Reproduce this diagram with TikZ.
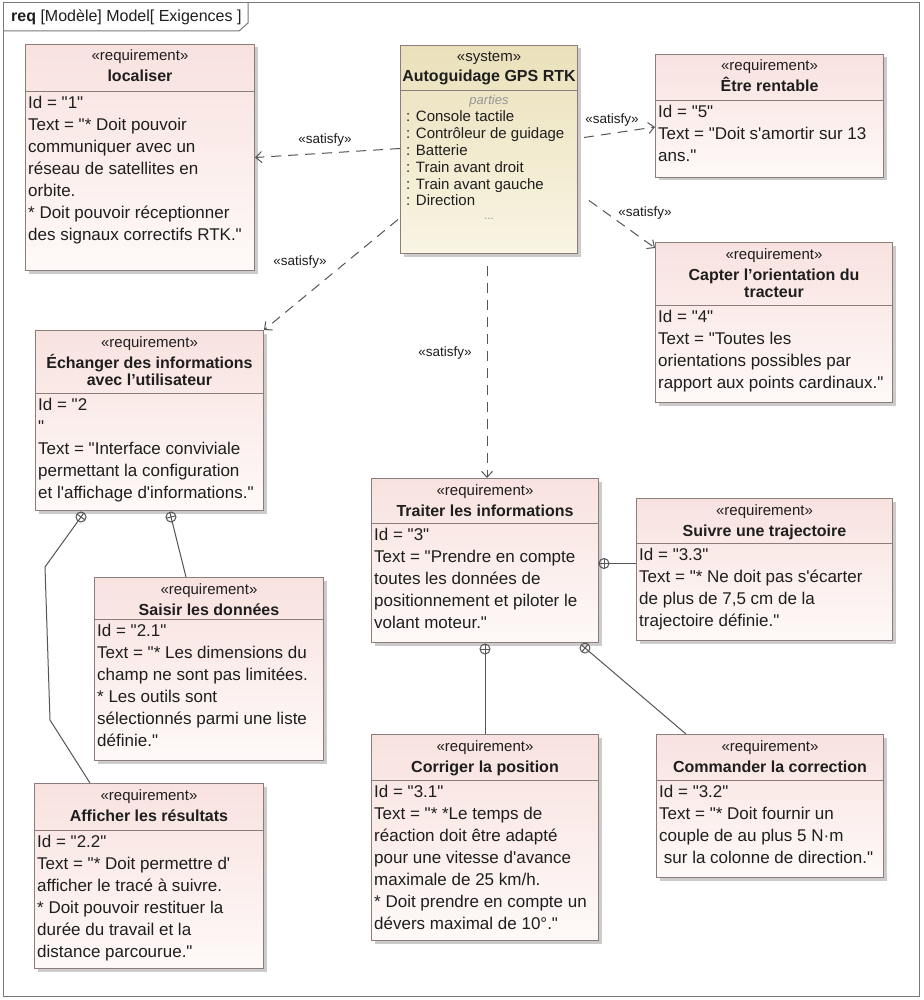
\documentclass[tikz,border=0pt]{standalone}
\usepackage{fontspec}
\setmainfont{Liberation Sans}[Ligatures=TeXOff]
\usetikzlibrary{calc,arrows.meta,shadows}
\definecolor{txt}{RGB}{30,30,30}
\definecolor{boxline}{RGB}{140,125,122}
\definecolor{reqTop}{RGB}{248,226,223}
\definecolor{reqBot}{RGB}{254,249,248}
\definecolor{sysTop}{RGB}{234,224,186}
\definecolor{sysBot}{RGB}{249,245,228}
\definecolor{conn}{RGB}{85,85,85}
\definecolor{framecol}{RGB}{120,120,120}
\definecolor{partgrey}{RGB}{150,150,150}

\tikzset{
  reqshape/.style={draw=boxline, line width=1pt, top color=reqTop, bottom color=reqBot,
    drop shadow={shadow xshift=3pt, shadow yshift=-3pt, fill=black!40, opacity=0.5}, inner sep=0pt},
  sysshape/.style={draw=boxline, line width=1pt, top color=sysTop, bottom color=sysBot,
    drop shadow={shadow xshift=3pt, shadow yshift=-3pt, fill=black!40, opacity=0.5}, inner sep=0pt},
  sepline/.style={draw=boxline, line width=1pt},
  reqstereo/.style={text=txt, inner sep=0pt, font=\fontsize{15}{17}\selectfont},
  reqtitle/.style={text=txt, inner sep=0pt, font=\bfseries\fontsize{16}{17.5}\selectfont},
  reqbody/.style={text=txt, inner sep=0pt, font=\fontsize{17}{22}\selectfont},
  sysparts/.style={text=txt, inner sep=0pt, font=\fontsize{15}{16.8}\selectfont},
  satisfy/.style={draw=conn, line width=1pt, dash pattern=on 10pt off 7pt,
    -{Straight Barb[length=6pt,width=11pt,line width=1pt]}},
  satlabel/.style={text=txt, inner sep=0pt, font=\fontsize{13.5}{15}\selectfont},
  cline/.style={draw=conn, line width=1pt},
}

\newcommand{\reqbox}[8]{%
  \node[reqshape, minimum width=#4, minimum height=#5, anchor=north west] (#1) at (#2,#3) {};
  \draw[sepline] ($(#1.north west)+(0,#6)$) -- ($(#1.north east)+(0,#6)$);
  \node[reqstereo, anchor=base] (#1-st) at ($(#1.north)+(0,17)$) {«requirement»};
  \node[reqtitle, anchor=base] (#1-ti) at ($(#1.north)+(0,38)$) {\begin{tabular}[t]{@{}c@{}}#7\end{tabular}};
  \node[reqbody, anchor=base west] (#1-bd) at ($(#1.north west)+(3,#6+17)$) {\begin{tabular}[t]{@{}l@{}}#8\end{tabular}};
}

% circle-plus containment symbol at #1, oriented towards #2
\newcommand{\ctmark}[2]{%
  \draw[cline] (#1) circle (5);
  \draw[cline] ($(#1)!5pt!(#2)$) -- ($(#1)!-5pt!(#2)$);
  \draw[cline] ($(#1)!5pt!90:(#2)$) -- ($(#1)!5pt!-90:(#2)$);
}

\begin{document}
\begin{tikzpicture}[x=1pt,y=-1pt]
\useasboundingbox (0,0) rectangle (923,1000);
\fill[white] (0,0) rectangle (923,1000);

% frame
\draw[draw=framecol, line width=1pt] (3,3) rectangle (919,996);
\draw[draw=framecol, line width=1pt] (3,31) -- (239,31) -- (248,23) -- (248,3);
\node[anchor=base west, inner sep=0pt, text=txt, font=\fontsize{16}{18}\selectfont] (hdr) at (11,22)
  {\textbf{req} [Modèle] Model[ Exigences ]};

% system block
\node[sysshape, minimum width=177, minimum height=208, anchor=north west] (sys) at (400,45) {};
\draw[sepline] ($(sys.north west)+(0,46)$) -- ($(sys.north east)+(0,46)$);
\node[reqstereo, anchor=base] (sys-st) at ($(sys.north)+(0,17)$) {«system»};
\node[reqtitle, anchor=base] (sys-ti) at ($(sys.north)+(0,37)$) {Autoguidage GPS RTK};
\node[anchor=base, inner sep=0pt, text=partgrey, font=\itshape\fontsize{13}{15}\selectfont] (sys-pa) at ($(sys.north)+(0,60)$) {parties};
\node[sysparts, anchor=base west] (sys-pt) at ($(sys.north west)+(6,77)$) {\begin{tabular}[t]{@{}l@{}}: Console tactile\\: Contrôleur de guidage\\: Batterie\\: Train avant droit\\: Train avant gauche\\: Direction\end{tabular}};
\node[anchor=base, inner sep=0pt, text=partgrey, font=\fontsize{12}{14}\selectfont] (sys-dt) at ($(sys.north)+(0,175)$) {...};

% requirement boxes
\reqbox{loc}{25}{44}{229}{226}{48}{localiser}{Id = "1"\\Text = "* Doit pouvoir\\communiquer avec un\\réseau de satellites en\\orbite.\\{}* Doit pouvoir réceptionner\\des signaux correctifs RTK."}
\reqbox{ren}{655}{54}{228}{123}{47}{Être rentable}{Id = "5"\\Text = "Doit s'amortir sur 13\\ans."}
\reqbox{cap}{655}{242}{237}{160}{63}{Capter l’orientation du\\tracteur}{Id = "4"\\Text = "Toutes les\\orientations possibles par\\rapport aux points cardinaux."}
\reqbox{ech}{35}{330}{228}{180}{63}{Échanger des informations\\avec l’utilisateur}{Id = "2\\"\\Text = "Interface conviviale\\permettant la configuration\\et l'affichage d'informations."}
\reqbox{trait}{371}{478}{227}{164}{45}{Traiter les informations}{Id = "3"\\Text = "Prendre en compte\\toutes les données de\\positionnement et piloter le\\volant moteur."}
\reqbox{suiv}{636}{498}{256}{142}{45}{Suivre une trajectoire}{Id = "3.3"\\Text = "* Ne doit pas s'écarter\\de plus de 7,5 cm de la\\trajectoire définie."}
\reqbox{sai}{94}{577}{229}{183}{42}{Saisir les données}{Id = "2.1"\\Text = "* Les dimensions du\\champ ne sont pas limitées.\\{}* Les outils sont\\sélectionnés parmi une liste\\définie."}
\reqbox{aff}{34}{783}{229}{185}{47}{Afficher les résultats}{Id = "2.2"\\Text = "* Doit permettre d'\\afficher le tracé à suivre.\\{}* Doit pouvoir restituer la\\durée du travail et la\\distance parcourue."}
\reqbox{corr}{371}{734}{227}{206}{46}{Corriger la position}{Id = "3.1"\\Text = "* *Le temps de\\réaction doit être adapté\\pour une vitesse d'avance\\maximale de 25 km/h.\\{}* Doit prendre en compte un\\dévers maximal de 10°."}
\reqbox{com}{656}{734}{227}{143}{46}{Commander la correction}{Id = "3.2"\\Text = "* Doit fournir un\\couple de au plus 5 N·m\\\ sur la colonne de direction."}

% satisfy dependencies
\draw[satisfy] ($(sys.west)+(0,-1)$) -- (loc.east);
\node[satlabel] (l1) at (325,140) {«satisfy»};
\draw[satisfy] ($(sys.east)+(6,-12)$) -- ($(ren.west)+(0,11)$);
\node[satlabel] (l2) at (612,120) {«satisfy»};
\draw[satisfy] ($(sys.east)+(11,51)$) -- ($(cap.north west)+(0,6)$);
\node[satlabel] (l3) at (645,213) {«satisfy»};
\draw[satisfy] ($(sys.west)+(-2,70)$) -- (ech.north east);
\node[satlabel] (l4) at (300,262) {«satisfy»};
\draw[satisfy] ($(sys.south)+(-2,12)$) -- ($(trait.north)+(2,0)$);
\node[satlabel] (l5) at (445,353) {«satisfy»};

% containment
\coordinate (k1) at ($(ech.south west)+(136,6)$);
\coordinate (e1) at ($(sai.north west)+(92,0)$);
\ctmark{k1}{e1}
\draw[cline] ($(k1)!5pt!(e1)$) -- (e1);

\coordinate (k2) at ($(ech.south west)+(46,6)$);
\coordinate (b2) at (45,567);
\coordinate (b3) at (50,720);
\coordinate (e2) at ($(aff.north west)+(56,0)$);
\ctmark{k2}{b2}
\draw[cline] ($(k2)!5pt!(b2)$) -- (b2) -- (b3) -- (e2);

\coordinate (k3) at ($(trait.east)+(5,3)$);
\coordinate (e3) at (suiv.west |- k3);
\ctmark{k3}{e3}
\draw[cline] ($(k3)!5pt!(e3)$) -- (e3);

\coordinate (k4) at ($(trait.south)+(0,6)$);
\ctmark{k4}{corr.north}
\draw[cline] ($(k4)!5pt!(corr.north)$) -- (corr.north);

\coordinate (k5) at ($(trait.south east)+(-14,5)$);
\coordinate (e5) at ($(com.north west)+(30,0)$);
\ctmark{k5}{e5}
\draw[cline] ($(k5)!5pt!(e5)$) -- (e5);
\end{tikzpicture}
\end{document}
